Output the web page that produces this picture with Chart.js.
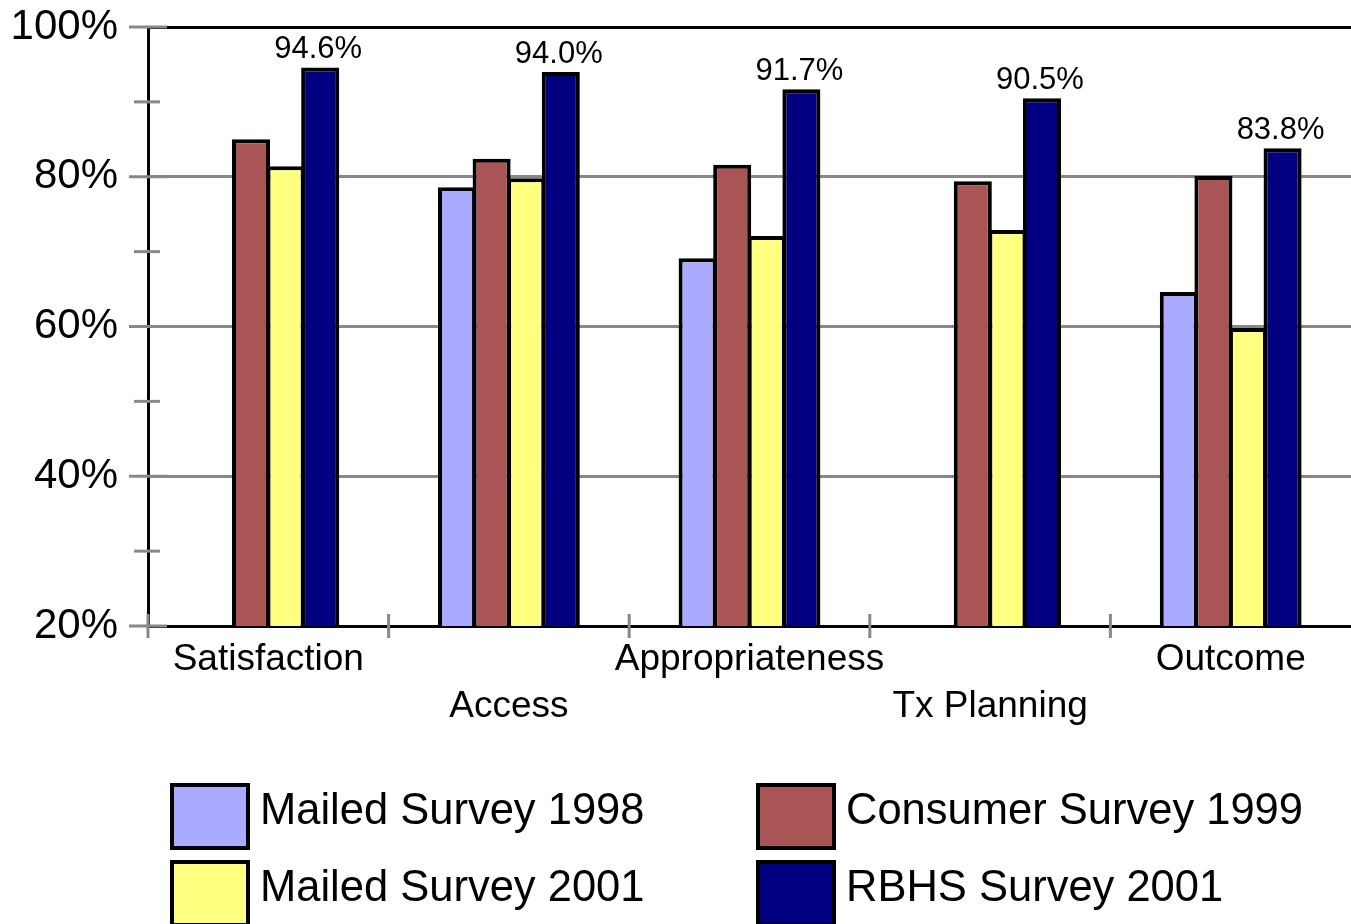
<!DOCTYPE html>
<html>
<head>
<meta charset="utf-8">
<script src="https://cdn.jsdelivr.net/npm/chart.js@4"></script>
<style>
  html, body { margin: 0; padding: 0; background: #fff; }
  #wrap { width: 1351px; height: 924px; position: relative; }
</style>
</head>
<body>
<div id="wrap"><canvas id="surveyChart"></canvas></div>
<script>
// --- data ---
const categories = [['Satisfaction'], ['', 'Access'], ['Appropriateness'], ['', 'Tx Planning'], ['Outcome']];
const mailed1998 = [null, 78.6, 69.1, null, 64.6];
const consumer1999 = [85.0, 82.4, 81.6, 79.4, 80.1];
const mailed2001 = [81.4, 79.8, 72.1, 72.9, 59.8];
const rbhs2001 = [94.6, 94.0, 91.7, 90.5, 83.8];
const seriesNames = ['Mailed Survey 1998', 'Consumer Survey 1999', 'Mailed Survey 2001', 'RBHS Survey 2001'];
const seriesColors = ['#aaaaff', '#aa5555', '#ffff80', '#000080'];
const yTickLabels = { 20: '20%', 40: '40%', 60: '60%', 80: '80%', 100: '100%' };

const FONT = '"Liberation Sans", Arial, sans-serif';

// gray tick marks crossing the axes
const crossTicks = {
    id: 'crossTicks',
    afterDraw(chart) {
        const { ctx, chartArea, scales } = chart;
        const x = scales.x, y = scales.y;
        ctx.save();
        ctx.strokeStyle = '#888888';
        ctx.lineWidth = 3;
        y.ticks.forEach(t => {
            const py = y.getPixelForValue(t.value);
            const major = t.value % 20 === 0;
            ctx.beginPath();
            ctx.moveTo(chartArea.left - (major ? 19 : 14), py);
            ctx.lineTo(chartArea.left + (major ? 19 : 12), py);
            ctx.stroke();
        });
        // category separators (the last one falls off the right edge)
        for (let i = 0; i < categories.length; i++) {
            const px = i === 0 ? chartArea.left : (x.getPixelForValue(i - 1) + x.getPixelForValue(i)) / 2;
            ctx.beginPath();
            ctx.moveTo(px, chartArea.bottom - 12);
            ctx.lineTo(px, chartArea.bottom + 12);
            ctx.stroke();
        }
        ctx.restore();
    }
};

// value labels above the RBHS bars
const topLabels = {
    id: 'topLabels',
    afterDatasetsDraw(chart) {
        const { ctx } = chart;
        const meta = chart.getDatasetMeta(3);
        ctx.save();
        ctx.font = '31px ' + FONT;
        ctx.fillStyle = '#000';
        ctx.textAlign = 'center';
        ctx.textBaseline = 'bottom';
        meta.data.forEach((bar, i) => {
            ctx.fillText(rbhs2001[i].toFixed(1) + '%', bar.x - 2, bar.y - 2);
        });
        ctx.restore();
    }
};

// 2x2 legend at the bottom
const gridLegend = {
    id: 'gridLegend',
    afterDraw(chart) {
        const { ctx } = chart;
        const colX = [172, 758];
        const rowY = [785, 862];
        ctx.save();
        ctx.font = '43.5px ' + FONT;
        ctx.textBaseline = 'middle';
        ctx.textAlign = 'left';
        seriesNames.forEach((name, i) => {
            const bx = colX[i % 2], by = rowY[Math.floor(i / 2)];
            ctx.fillStyle = seriesColors[i];
            ctx.fillRect(bx, by, 76, 63);
            ctx.strokeStyle = '#000';
            ctx.lineWidth = 4;
            ctx.strokeRect(bx, by, 76, 63);
            ctx.fillStyle = '#000';
            ctx.fillText(name, bx + 88, by + 27);
        });
        ctx.restore();
    }
};

const datasets = [mailed1998, consumer1999, mailed2001, rbhs2001].map((vals, i) => ({
    label: seriesNames[i],
    data: vals,
    backgroundColor: seriesColors[i],
    borderColor: '#000',
    borderWidth: 4,
    borderSkipped: false,
    categoryPercentage: 0.575,
    barPercentage: 1.1
}));

const ctx = document.getElementById('surveyChart').getContext('2d');
const surveyChart = new Chart(ctx, {
    type: 'bar',
    data: { labels: categories, datasets: datasets },
    options: {
        responsive: true,
        maintainAspectRatio: false,
        animation: false,
        layout: { padding: { top: 27, bottom: 198, left: 0, right: 0 } },
        plugins: {
            legend: { display: false },
            tooltip: { enabled: false }
        },
        scales: {
            x: {
                grid: { display: false, drawTicks: false },
                border: { color: '#000', width: 3 },
                ticks: {
                    color: '#000',
                    font: { family: FONT, size: 37, lineHeight: 1.25 },
                    maxRotation: 0,
                    autoSkip: false,
                    padding: 11
                },
                afterFit(scale) { scale.height = 100; scale.paddingLeft = 0; scale.paddingRight = 0; }
            },
            y: {
                min: 20,
                max: 100,
                grid: {
                    drawTicks: false,
                    lineWidth: 3,
                    color: c => {
                        const v = c.tick && c.tick.value;
                        if (v === 100) return '#000';
                        if (v === 40 || v === 60 || v === 80) return '#888888';
                        return 'rgba(0,0,0,0)';
                    }
                },
                border: { color: '#000', width: 3 },
                ticks: {
                    stepSize: 10,
                    color: '#000',
                    font: { family: FONT, size: 42 },
                    padding: 30,
                    callback: v => yTickLabels[v] || ''
                },
                afterFit(scale) { scale.width = 148; scale.paddingTop = 0; scale.paddingBottom = 0; }
            }
        }
    },
    plugins: [crossTicks, topLabels, gridLegend]
});
</script>
</body>
</html>
